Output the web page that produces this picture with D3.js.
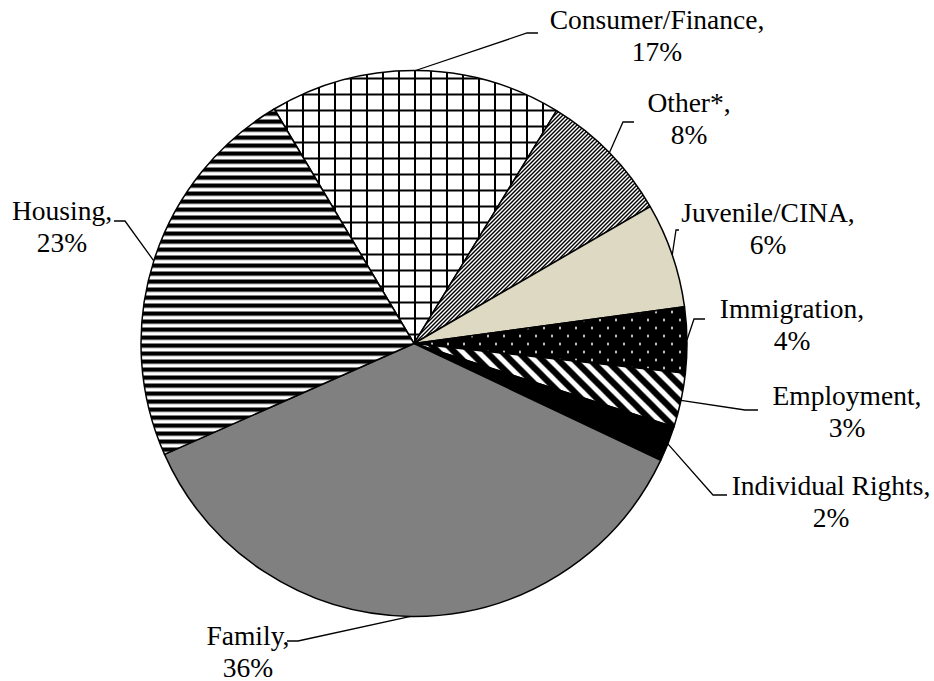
<!DOCTYPE html>
<html>
<head>
<meta charset="utf-8">
<script src="https://cdn.jsdelivr.net/npm/d3@7"></script>
<style>
  html, body { margin: 0; padding: 0; background: #ffffff; }
  svg { display: block; }
  text { font-family: "Liberation Serif", "Times New Roman", serif; }
</style>
</head>
<body>
<svg id="chart" width="934" height="681"></svg>
<script>
// ---- data ----
const categories = ["Consumer/Finance", "Other*", "Juvenile/CINA", "Immigration", "Employment", "Individual Rights", "Family", "Housing"];
const values = [17.3, 7.9, 6.2, 3.9, 3.2, 2.1, 36.3, 23.1];
const fills = ["url(#pGrid)", "url(#pUpDiag)", "#DDD9C3", "url(#pDots)", "url(#pDownDiag)", "#000000", "#808080", "url(#pHStripe)"];

// ---- layout (label anchors and leader elbows) ----
const labelLayout = [
  { x: 657, y: 29,  ex: 527, ey: 33,  hx: 538 },
  { x: 689, y: 112, ex: 623, ey: 122, hx: 634 },
  { x: 768, y: 222, ex: 676, ey: 230, hx: 679 },
  { x: 792, y: 318, ex: 694, ey: 319, hx: 705 },
  { x: 847, y: 405, ex: 745, ey: 410, hx: 758 },
  { x: 831, y: 495, ex: 713, ey: 495, hx: 727 },
  { x: 248, y: 645, ex: 298, ey: 641, hx: 287 },
  { x: 62,  y: 220, ex: 125, ey: 221, hx: 114 }
];

const svg = d3.select("#chart");
const cx = 414, cy = 343.5, R = 273;

// ---- patterns ----
const defs = svg.append("defs");
// large grid
let p = defs.append("pattern").attr("id", "pGrid").attr("patternUnits", "userSpaceOnUse")
  .attr("width", 16).attr("height", 16).attr("patternTransform", "translate(0,6)");
p.append("rect").attr("width", 16).attr("height", 16).attr("fill", "#fff");
p.append("rect").attr("x", 0).attr("y", 0).attr("width", 2).attr("height", 16).attr("fill", "#000");
p.append("rect").attr("x", 0).attr("y", 0).attr("width", 16).attr("height", 2).attr("fill", "#000");
// horizontal stripes
p = defs.append("pattern").attr("id", "pHStripe").attr("patternUnits", "userSpaceOnUse")
  .attr("width", 8).attr("height", 8);
p.append("rect").attr("width", 8).attr("height", 8).attr("fill", "#fff");
p.append("rect").attr("x", 0).attr("y", 0).attr("width", 8).attr("height", 4.3).attr("fill", "#000");
// dense upward diagonal (pixel stairs, 50% black)
p = defs.append("pattern").attr("id", "pUpDiag").attr("patternUnits", "userSpaceOnUse")
  .attr("width", 4).attr("height", 4);
p.append("rect").attr("width", 4).attr("height", 4).attr("fill", "#fff");
[[3, 0], [0, 0], [2, 1], [3, 1], [1, 2], [2, 2], [0, 3], [1, 3]].forEach(([x, y]) => {
  p.append("rect").attr("x", x).attr("y", y).attr("width", 1).attr("height", 1)
    .attr("fill", "#000").attr("shape-rendering", "crispEdges");
});
// wide downward diagonal
p = defs.append("pattern").attr("id", "pDownDiag").attr("patternUnits", "userSpaceOnUse")
  .attr("width", 16).attr("height", 16);
p.append("rect").attr("width", 16).attr("height", 16).attr("fill", "#fff");
p.append("path").attr("d", "M-4,-4 L20,20 M-12,4 L4,20 M4,-12 L20,4")
  .attr("stroke", "#000").attr("stroke-width", 6.2);
// dots on black
p = defs.append("pattern").attr("id", "pDots").attr("patternUnits", "userSpaceOnUse")
  .attr("width", 16).attr("height", 16).attr("patternTransform", "translate(0,-1)");
p.append("rect").attr("width", 16).attr("height", 16).attr("fill", "#000");
p.append("rect").attr("x", 1).attr("y", 0.5).attr("width", 2).attr("height", 2).attr("fill", "#fff");
p.append("rect").attr("x", 9).attr("y", 8.5).attr("width", 2).attr("height", 2).attr("fill", "#fff");

// ---- pie ----
const start = -30.8 * Math.PI / 180;
const pie = d3.pie().sort(null).value(d => d).startAngle(start).endAngle(start + 2 * Math.PI);
const arcs = pie(values);
const arc = d3.arc().innerRadius(0).outerRadius(R);
const edgeArc = d3.arc().innerRadius(R).outerRadius(R);

const g = svg.append("g").attr("transform", `translate(${cx},${cy})`);
g.selectAll("path.slice").data(arcs).enter().append("path")
  .attr("class", "slice")
  .attr("d", arc)
  .attr("fill", (d, i) => fills[i])
  .attr("stroke", "#000")
  .attr("stroke-width", 1.5)
  .attr("stroke-linejoin", "round");

// ---- leader lines ----
const total = d3.sum(values);
svg.selectAll("path.leader").data(arcs).enter().append("path")
  .attr("class", "leader")
  .attr("d", (d, i) => {
    const c = edgeArc.centroid(d);
    const L = labelLayout[i];
    return d3.line()([[cx + c[0], cy + c[1]], [L.ex, L.ey], [L.hx, L.ey]]);
  })
  .attr("fill", "none").attr("stroke", "#000").attr("stroke-width", 1.3);

// ---- labels ----
const lab = svg.selectAll("text.lbl").data(arcs).enter().append("text")
  .attr("class", "lbl")
  .attr("text-anchor", "middle")
  .attr("font-size", 27.5)
  .attr("fill", "#000");
lab.append("tspan")
  .attr("x", (d, i) => labelLayout[i].x)
  .attr("y", (d, i) => labelLayout[i].y)
  .text((d, i) => categories[i] + ",");
lab.append("tspan")
  .attr("x", (d, i) => labelLayout[i].x)
  .attr("y", (d, i) => labelLayout[i].y + 31.5)
  .text(d => Math.round(d.data / total * 100) + "%");
</script>
</body>
</html>
